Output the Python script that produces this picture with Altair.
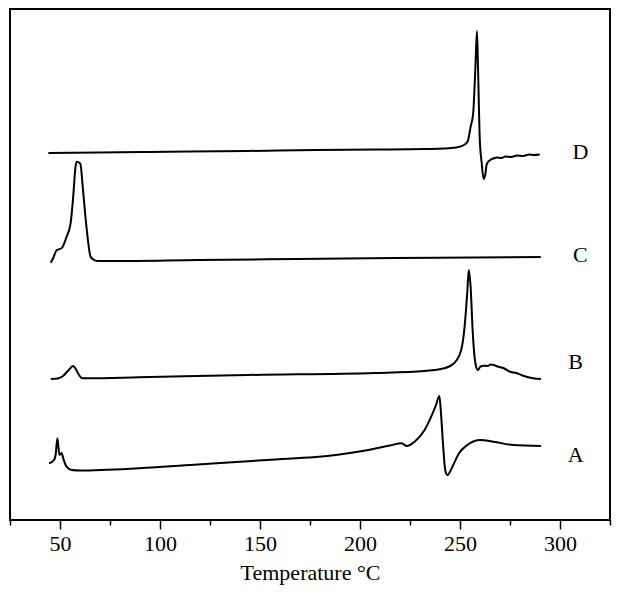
import altair as alt
import pandas as pd

# Temperature (°C) and heat-flow (arbitrary units)
A_T = [44.6, 47.0, 47.8, 48.7, 49.7, 50.8, 51.6, 53.3, 55.8, 59.9, 89.4, 119.0, 153.4, 187.9,
       204.2, 215.0, 220.8, 223.3, 227.3, 232.3, 235.6, 238.0, 239.7, 240.5, 241.6, 242.6,
       243.7, 246.2, 249.5, 253.6, 260.2, 266.7, 276.6, 290.5]
A_H = [56.7, 60, 65, 81.7, 65, 67, 61.7, 53.3, 50, 49.5, 51.7, 55.5, 60, 65,
       70, 74.5, 76.7, 74, 78.3, 90, 103.3, 115, 124, 106.7, 73.3, 50,
       45, 53.3, 66.7, 75, 80, 78.3, 75, 74]

B_T = [45.4, 49.0, 51.5, 53.9, 56.6, 57.9, 59.0, 61.2, 64.8, 89.4, 143.6, 207.6, 232.3, 242.1,
       247.0, 250.6, 252.3, 253.6, 254.4, 255.3, 256.4, 257.7, 258.9, 260.2, 261.8, 263.8,
       265.3, 266.7, 269.2, 271.7, 275.0, 278.1, 281.5, 286.5, 290.5]
B_H = [141, 141.5, 144, 149, 154, 151, 146.7, 141.7, 141.7, 142.7, 145, 147, 149, 151.7,
       156.7, 170, 193.3, 226.7, 250, 233.3, 186.7, 156.7, 150, 153.3, 154.3, 154,
       155.5, 155, 153.3, 152, 148.3, 147, 144.3, 141.7, 141]

C_T = [45.4, 46.6, 48.4, 50.8, 53.3, 55.3, 56.6, 57.6, 58.2, 59.4, 60.2, 61.5, 63.4, 65.3,
       66.7, 68.7, 74.6, 119.0, 168.2, 217.5, 256.9, 290.4]
C_H = [257.3, 262, 270, 271.7, 283.3, 296.7, 323.3, 350, 358.3, 357.5, 356, 330, 290, 263.3,
       260.5, 259, 259, 260, 261, 262, 262.5, 263]

D_T = [44.2, 69.7, 94.3, 143.6, 178.1, 207.6, 232.3, 242.1, 248.0, 252.0, 253.9, 255.3, 256.6,
       257.7, 258.5, 259.0, 259.9, 260.8, 261.8, 262.6, 263.4, 265.1, 266.7, 268.4, 270.7,
       272.7, 275.6, 278.6, 281.5, 284.5, 286.9, 289.9]
D_H = [367, 367.5, 368, 369, 370, 370.5, 371, 371.5, 372.5, 375, 379, 393, 407,
       453, 489, 453, 380, 358, 341, 345, 356, 360, 361.5, 362.5, 362,
       363.5, 363, 364.5, 364, 365.5, 365, 365.5]

labels = ["A", "B", "C", "D"]
label_T = [307.8, 307.8, 310.2, 310.2]
label_H = [65, 158, 265, 368]

major_ticks = [50, 100, 150, 200, 250, 300]
minor_ticks = [25, 75, 125, 175, 225, 275, 325]

rows = []
for name, ts, hs in [("A", A_T, A_H), ("B", B_T, B_H), ("C", C_T, C_H), ("D", D_T, D_H)]:
    for i, (t, h) in enumerate(zip(ts, hs)):
        rows.append({"series": name, "T": t, "H": h, "order": i})
curves = pd.DataFrame(rows)
lab_df = pd.DataFrame({"label": labels, "T": label_T, "H": label_H})

xdom = [25, 325]
ydom = [0, 511]
FONT = "Liberation Serif"

lines = alt.Chart(curves).mark_line(
    color="black", strokeWidth=2, interpolate="monotone"
).encode(
    x=alt.X("T:Q", scale=alt.Scale(domain=xdom, nice=False, zero=False),
            axis=alt.Axis(values=major_ticks, title="Temperature °C", orient="bottom",
                          tickSize=9, tickWidth=1.5, tickColor="black", domain=False,
                          labelFont=FONT, labelFontSize=22, labelColor="black",
                          labelPadding=4, titleFont=FONT, titleFontSize=22,
                          titleFontWeight="normal", titleColor="black", titlePadding=8,
                          grid=False)),
    y=alt.Y("H:Q", scale=alt.Scale(domain=ydom, nice=False, zero=False), axis=None),
    detail="series:N",
    order="order:Q",
)

texts = alt.Chart(lab_df).mark_text(
    font=FONT, fontSize=22, color="black", align="center", baseline="middle"
).encode(
    x=alt.X("T:Q", scale=alt.Scale(domain=xdom, nice=False, zero=False),
            axis=alt.Axis(values=minor_ticks, labels=False, title=None, orient="bottom",
                          tickSize=5, tickWidth=1.5, tickColor="black", domain=False,
                          grid=False)),
    y=alt.Y("H:Q", scale=alt.Scale(domain=ydom, nice=False, zero=False), axis=None),
    text="label:N",
)

chart = alt.layer(lines, texts).resolve_scale(x="independent").resolve_axis(
    x="independent"
).properties(
    width=600,
    height=511,
    autosize=alt.AutoSizeParams(type="none"),
    padding={"left": 2, "top": 1, "right": 3, "bottom": 65},
    background="white",
).configure_view(stroke="black", strokeWidth=2)

chart.save("out.html", embed_options={"renderer": "svg", "actions": False})
